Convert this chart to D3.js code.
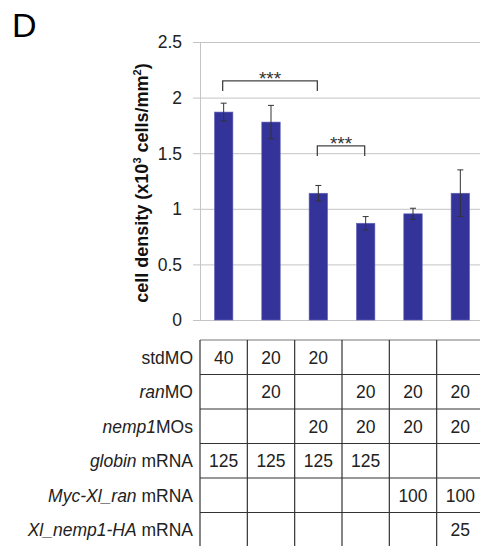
<!DOCTYPE html>
<html>
<head>
<meta charset="utf-8">
<script src="https://cdn.jsdelivr.net/npm/d3@7"></script>
<style>
  body { margin: 0; background: #fff; }
  text { font-family: Arial, "Liberation Sans", sans-serif; }
</style>
</head>
<body>
<div id="chart"></div>
<script>
// bar data (cell density, x10^3 cells/mm2)
var groups = ["g1", "g2", "g3", "g4", "g5", "g6"];
var means = [1.87, 1.78, 1.14, 0.87, 0.955, 1.14];
var errs = [0.08, 0.15, 0.07, 0.06, 0.05, 0.21];
var yTicks = [0, 0.5, 1, 1.5, 2, 2.5];

// significance brackets: bar index from/to, level in data units
var sigFrom = [0, 2];
var sigTo = [2, 3];
var sigLevel = [2.15, 1.565];
var sigLabel = ["***", "***"];

// injection table
var rowNames = [
  [["stdMO", false]],
  [["ran", true], ["MO", false]],
  [["nemp1", true], ["MOs", false]],
  [["globin", true], [" mRNA", false]],
  [["Myc-Xl_ran", true], [" mRNA", false]],
  [["Xl_nemp1-HA", true], [" mRNA", false]]
];
var stdMO   = ["40", "20", "20", "", "", ""];
var ranMO   = ["", "20", "", "20", "20", "20"];
var nempMO  = ["", "", "20", "20", "20", "20"];
var globin  = ["125", "125", "125", "125", "", ""];
var mycRan  = ["", "", "", "", "100", "100"];
var nempHA  = ["", "", "", "", "", "25"];
var tableRows = [stdMO, ranMO, nempMO, globin, mycRan, nempHA];

var width = 480, height = 546;
// note: can't call it "top", clashes with window.top
var plotL = 200, plotR = 484, plotT = 42, plotB = 320;

var svg = d3.select("#chart").append("svg")
  .attr("width", width)
  .attr("height", height);

svg.append("rect").attr("width", width).attr("height", height).attr("fill", "#fff");

var x = d3.scaleBand().domain(groups).range([plotL, plotR]).padding(0);
var y = d3.scaleLinear().domain([0, 2.5]).range([plotB, plotT]);
var barW = x.bandwidth() * 0.39;

/* panel letter */
svg.append("text")
  .attr("x", 12).attr("y", 37)
  .style("font-size", "34px")
  .text("D");

/* gridlines */
svg.append("g")
  .selectAll("line")
  .data(yTicks)
  .enter().append("line")
  .attr("x1", plotL - 7).attr("x2", plotR)
  .attr("y1", function(d) { return y(d) + 0.5; })
  .attr("y2", function(d) { return y(d) + 0.5; })
  .attr("stroke", "#c4c4c4")
  .attr("stroke-width", 1);

/* y axis line */
svg.append("line")
  .attr("x1", plotL + 0.5).attr("x2", plotL + 0.5)
  .attr("y1", y(2.5)).attr("y2", y(0))
  .attr("stroke", "#c4c4c4");

/* tick labels */
svg.append("g")
  .selectAll("text")
  .data(yTicks)
  .enter().append("text")
  .attr("x", 182)
  .attr("y", function(d) { return y(d); })
  .attr("dy", "0.36em")
  .attr("text-anchor", "end")
  .style("font-size", "17.5px")
  .attr("fill", "#222")
  .text(function(d) { return d; });

/* y title */
var yt = svg.append("text")
  .attr("transform", "translate(148," + 183 + ") rotate(-90)")
  .attr("text-anchor", "middle")
  .style("font-size", "18px")
  .style("font-weight", "bold")
  .attr("fill", "#111");
yt.append("tspan").text("cell density (x10");
yt.append("tspan").attr("dy", -7).style("font-size", "11px").text("3");
yt.append("tspan").attr("dy", 7).text(" cells/mm");
yt.append("tspan").attr("dy", -7).style("font-size", "11px").text("2");
yt.append("tspan").attr("dy", 7).text(")");

/* bars */
svg.append("g")
  .selectAll("rect")
  .data(groups)
  .enter().append("rect")
  .attr("x", function(d) { return x(d) + x.bandwidth() / 2 - barW / 2; })
  .attr("width", barW)
  .attr("y", function(d, i) { return y(means[i]); })
  .attr("height", function(d, i) { return y(0) - y(means[i]); })
  .attr("fill", "#333399")
  .attr("stroke", "#6666bb")
  .attr("stroke-width", 0.6);

/* error bars */
var eb = svg.append("g").attr("stroke", "#333").attr("stroke-width", 1);
groups.forEach(function(g, i) {
  var cx = x(g) + x.bandwidth() / 2;
  eb.append("line")
    .attr("x1", cx).attr("x2", cx)
    .attr("y1", y(means[i] + errs[i])).attr("y2", y(means[i] - errs[i]));
  [means[i] + errs[i], means[i] - errs[i]].forEach(function(v) {
    eb.append("line")
      .attr("x1", cx - 3).attr("x2", cx + 3)
      .attr("y1", y(v)).attr("y2", y(v));
  });
});

/* significance brackets */
var sg = svg.append("g");
sigFrom.forEach(function(f, i) {
  var x1 = x(groups[f]) + x.bandwidth() / 2 - 1;
  var x2 = x(groups[sigTo[i]]) + x.bandwidth() / 2 - 1;
  var yy = y(sigLevel[i]);
  sg.append("path")
    .attr("d", "M" + x1 + "," + (yy + 10) + "V" + yy + "H" + x2 + "V" + (yy + 10))
    .attr("fill", "none")
    .attr("stroke", "#444")
    .attr("stroke-width", 1.3);
  sg.append("text")
    .attr("x", (x1 + x2) / 2)
    .attr("y", yy + 4)
    .attr("text-anchor", "middle")
    .style("font-size", "19px")
    .attr("fill", "#333")
    .text(sigLabel[i]);
});

/* table */
var rowH = 34.5, tableTop = 340;
var tg = svg.append("g");

tableRows.forEach(function(row, r) {
  var ry = tableTop + r * rowH;
  tg.append("line")
    .attr("x1", plotL).attr("x2", plotR)
    .attr("y1", ry).attr("y2", ry)
    .attr("stroke", r === 0 ? "#777" : "#333").attr("stroke-width", 1.2);

  var lbl = tg.append("text")
    .attr("x", 193)
    .attr("y", ry + rowH / 2)
    .attr("dy", "0.36em")
    .attr("text-anchor", "end")
    .style("font-size", "17.5px")
    .attr("fill", "#222");
  rowNames[r].forEach(function(p) {
    lbl.append("tspan")
      .style("font-style", p[1] ? "italic" : "normal")
      .text(p[0]);
  });

  tg.selectAll(null)
    .data(row)
    .enter().append("text")
    .attr("x", function(d, i) { return x(groups[i]) + x.bandwidth() / 2; })
    .attr("y", ry + rowH / 2)
    .attr("dy", "0.36em")
    .attr("text-anchor", "middle")
    .style("font-size", "17.5px")
    .attr("fill", "#222")
    .text(function(d) { return d; });
});
tg.append("line")
  .attr("x1", plotL).attr("x2", plotR)
  .attr("y1", tableTop + 6 * rowH).attr("y2", tableTop + 6 * rowH)
  .attr("stroke", "#333").attr("stroke-width", 1.2);

/* column lines */
tg.selectAll("line.col")
  .data(groups.concat(["end"]))
  .enter().append("line")
  .attr("class", "col")
  .attr("x1", function(d, i) { return plotL + i * x.bandwidth(); })
  .attr("x2", function(d, i) { return plotL + i * x.bandwidth(); })
  .attr("y1", tableTop)
  .attr("y2", tableTop + 6 * rowH)
  .attr("stroke", "#333").attr("stroke-width", 1.2);
</script>
</body>
</html>
